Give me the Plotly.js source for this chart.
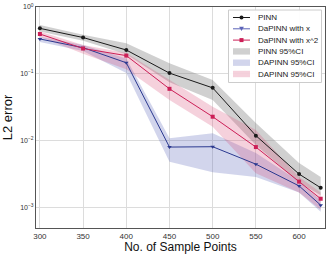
<!DOCTYPE html>
<html>
<head>
<meta charset="utf-8">
<script src="https://cdn.plot.ly/plotly-3.0.1.min.js"></script>
<style>html,body{margin:0;padding:0;background:#fff;}#chart{width:327px;height:254px;}</style>
</head>
<body>
<div id="chart"></div>
<script>
const samplePoints = [300, 350, 400, 450, 500, 550, 600, 625];

const pinn      = [0.48, 0.35, 0.228, 0.103, 0.062, 0.012, 0.0032, 0.0020];
const dapinnX   = [0.333, 0.247, 0.147, 0.0081, 0.0082, 0.0045, 0.00213, 0.0011];
const dapinnX2  = [0.395, 0.24, 0.188, 0.060, 0.023, 0.0081, 0.00247, 0.00137];

const pinnUpper     = [0.54, 0.386, 0.287, 0.145, 0.081, 0.0185, 0.0047, 0.0029];
const pinnLower     = [0.43, 0.314, 0.197, 0.075, 0.041, 0.0087, 0.0024, 0.00155];
const dapinnXUpper  = [0.36, 0.27, 0.17, 0.011, 0.013, 0.0066, 0.0025, 0.0013];
const dapinnXLower  = [0.30, 0.22, 0.103, 0.0049, 0.0034, 0.0029, 0.0017, 0.00088];
const dapinnX2Upper = [0.43, 0.27, 0.205, 0.081, 0.0325, 0.0146, 0.0029, 0.0017];
const dapinnX2Lower = [0.36, 0.20, 0.118, 0.041, 0.0163, 0.0033, 0.0017, 0.00094];

const lineNames = ['PINN', 'DaPINN with x', 'DaPINN with x^2'];
const bandNames = ['PINN 95%CI', 'DAPINN 95%CI', 'DAPINN 95%CI'];

const yTickVals = [0.001, 0.01, 0.1, 1];
const yTickText = ['10<sup>−3</sup>', '10<sup>−2</sup>', '10<sup>−1</sup>', '10<sup>0</sup>'];
const xTickVals = [300, 350, 400, 450, 500, 550, 600];

const lineColors = ['#1a1a1a', '#2b3990', '#cc1f57'];
const legendLineColors = ['#1a1a1a', '#5b63b8', '#cc1f57'];
const bandColors = ['rgba(120,120,120,0.35)', 'rgba(95,105,185,0.28)', 'rgba(215,70,115,0.25)'];
const symbols = ['circle', 'triangle-down', 'square'];

function band(name, upper, lower, color) {
  return {
    x: samplePoints.concat(samplePoints.slice().reverse()),
    y: upper.concat(lower.slice().reverse()),
    type: 'scatter', mode: 'lines', fill: 'toself',
    fillcolor: color, line: {width: 0}, name: name, hoverinfo: 'skip'
  };
}
function line(name, y, color, symbol) {
  return {
    x: samplePoints, y: y, type: 'scatter', mode: 'lines+markers', name: name,
    line: {color: color, width: 1},
    marker: {color: color, symbol: symbol, size: 4}
  };
}

const traces = [
  band(bandNames[0], pinnUpper, pinnLower, bandColors[0]),
  band(bandNames[1], dapinnXUpper, dapinnXLower, bandColors[1]),
  band(bandNames[2], dapinnX2Upper, dapinnX2Lower, bandColors[2]),
  line(lineNames[0], pinn, lineColors[0], symbols[0]),
  line(lineNames[1], dapinnX, lineColors[1], symbols[1]),
  line(lineNames[2], dapinnX2, lineColors[2], symbols[2])
];

// ---- hand-built compact legend (Plotly's native legend rows are too tall) ----
const M = {l: 36, r: 2, t: 7, b: 26};
const PW = 327 - M.l - M.r, PH = 254 - M.t - M.b;
const px = x => (x - M.l) / PW;
const py = y => (M.t + PH - y) / PH;

const shapes = [];
const annotations = [];
shapes.push({type: 'rect', xref: 'paper', yref: 'paper', layer: 'above',
  x0: px(228.5), x1: px(321.5), y0: py(82.5), y1: py(10),
  fillcolor: 'rgba(255,255,255,0.92)', line: {color: '#cccccc', width: 1}});

const rowY0 = 17.5, rowStep = 11.3;
const symX0 = 233, symX1 = 250, symXC = 241.5, textX = 256;
const allNames = lineNames.concat(bandNames);
allNames.forEach((nm, i) => {
  const yc = rowY0 + i * rowStep;
  if (i < 3) {
    const c = legendLineColors[i];
    shapes.push({type: 'line', xref: 'paper', yref: 'paper', layer: 'above',
      x0: px(symX0), x1: px(symX1), y0: py(yc), y1: py(yc), line: {color: c, width: 1}});
    if (symbols[i] === 'circle') {
      shapes.push({type: 'circle', xref: 'paper', yref: 'paper', layer: 'above',
        x0: px(symXC - 2), x1: px(symXC + 2), y0: py(yc + 2), y1: py(yc - 2),
        fillcolor: c, line: {width: 0}});
    } else if (symbols[i] === 'square') {
      shapes.push({type: 'rect', xref: 'paper', yref: 'paper', layer: 'above',
        x0: px(symXC - 2), x1: px(symXC + 2), y0: py(yc + 2), y1: py(yc - 2),
        fillcolor: c, line: {width: 0}});
    } else {
      const a = [px(symXC - 2.4), py(yc - 2)], b = [px(symXC + 2.4), py(yc - 2)], d = [px(symXC), py(yc + 2.2)];
      shapes.push({type: 'path', xref: 'paper', yref: 'paper', layer: 'above',
        path: `M${a[0]},${a[1]} L${b[0]},${b[1]} L${d[0]},${d[1]} Z`,
        fillcolor: c, line: {width: 0}});
    }
  } else {
    shapes.push({type: 'rect', xref: 'paper', yref: 'paper', layer: 'above',
      x0: px(symX0), x1: px(symX1), y0: py(yc + 3.2), y1: py(yc - 3.2),
      fillcolor: bandColors[i - 3], line: {width: 0}});
  }
  annotations.push({xref: 'paper', yref: 'paper', x: px(textX), y: py(yc),
    xanchor: 'left', yanchor: 'middle', showarrow: false, text: nm,
    font: {size: 8, color: '#222'}});
});

const layout = {
  width: 327, height: 254,
  margin: M,
  paper_bgcolor: '#fff', plot_bgcolor: '#fff',
  font: {family: 'Liberation Sans, Arial, sans-serif', color: '#222'},
  showlegend: false,
  xaxis: {
    range: [295.5, 630], tickvals: xTickVals, ticks: '',
    showgrid: true, gridcolor: '#dcdcdc', gridwidth: 1,
    showline: true, linecolor: '#555', linewidth: 1, mirror: true,
    zeroline: false, tickfont: {size: 8, color: '#333'},
    title: {text: 'No. of Sample Points', font: {size: 12, color: '#111'}, standoff: 2}
  },
  yaxis: {
    type: 'log', range: [-3.3, 0], tickvals: yTickVals, ticktext: yTickText, ticks: '',
    showgrid: true, gridcolor: '#dcdcdc', gridwidth: 1,
    showline: true, linecolor: '#555', linewidth: 1, mirror: true,
    zeroline: false, tickfont: {size: 7, color: '#333'},
    title: {text: 'L2 error', font: {size: 13, color: '#111'}, standoff: 4}
  },
  shapes: shapes,
  annotations: annotations
};

Plotly.newPlot('chart', traces, layout, {displayModeBar: false, staticPlot: true});
</script>
</body>
</html>
